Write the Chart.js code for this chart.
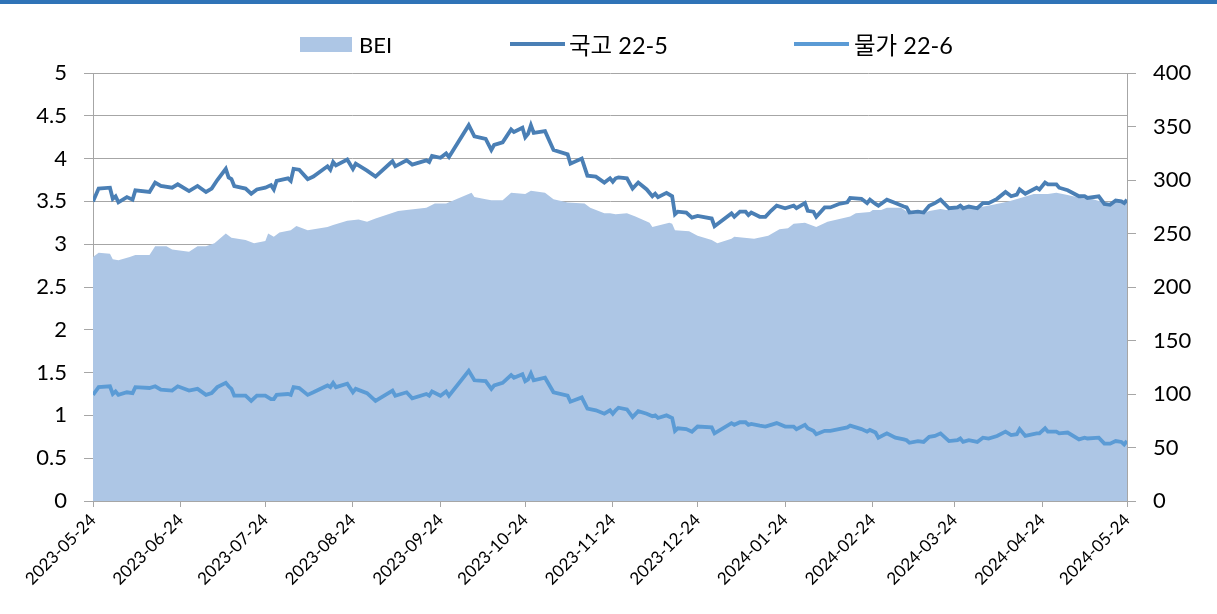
<!DOCTYPE html>
<html>
<head>
<meta charset="utf-8">
<script src="https://cdn.jsdelivr.net/npm/chart.js@4.4.1/dist/chart.umd.min.js"></script>
<style>
  body { margin: 0; background: #fff; }
  #wrap { position: relative; width: 1217px; height: 614px; overflow: hidden; }
  #band { position: absolute; left: 0; top: 0; width: 1217px; height: 4px; background: #2f73b7; }
  #legend { position: absolute; left: 0; top: 0; width: 1217px; height: 70px;
            font-family: Lato, "Noto Sans CJK KR", sans-serif; font-size: 22px; color: #000; }
  .sw { position: absolute; }
  .lb { position: absolute; top: 30px; line-height: 30px; white-space: nowrap; }
</style>
</head>
<body>
<div id="wrap">
  <canvas id="chart" width="1217" height="614"></canvas>
  <div id="band"></div>
  <div id="legend"></div>
</div>
<script>
// days since 2023-05-24
const days = [0,2,6,7,8,9,12,14,15,20,22,24,28,30,34,37,40,42,44,47,48,49,50,54,56,58,61,63,64,65,
  69,70,71,73,76,78,83,84,85,86,90,92,93,97,100,105,106,107,111,113,118,119,120,123,125,126,
  133,135,139,141,142,145,148,149,152,153,154,155,156,160,163,168,169,173,175,178,181,183,184,185,186,
  189,191,193,196,198,199,200,203,205,206,207,210,212,214,219,220,226,227,229,231,232,233,236,238,240,
  242,245,248,249,252,253,255,256,259,261,264,267,268,272,274,275,277,278,281,284,287,288,289,292,294,
  296,298,300,303,306,307,308,310,313,315,317,320,323,325,327,328,330,334,335,337,338,341,342,345,
  349,351,352,356,358,360,362,364,365,366];

const ktb = [3.50,3.65,3.66,3.53,3.56,3.49,3.55,3.52,3.63,3.61,3.72,3.68,3.66,3.70,3.62,3.68,3.61,3.65,3.75,3.88,
  3.78,3.76,3.68,3.65,3.59,3.64,3.66,3.69,3.64,3.74,3.77,3.74,3.88,3.87,3.76,3.79,3.91,3.87,3.96,3.92,
  3.99,3.88,3.94,3.86,3.79,3.94,3.97,3.91,3.98,3.93,3.98,3.96,4.03,4.01,4.06,4.02,
  4.39,4.26,4.23,4.10,4.16,4.19,4.34,4.31,4.36,4.25,4.29,4.39,4.30,4.32,4.10,4.05,3.94,4.00,3.80,3.79,
  3.72,3.77,3.73,3.77,3.78,3.77,3.65,3.72,3.64,3.56,3.59,3.55,3.60,3.56,3.35,3.38,3.37,3.31,3.33,3.30,
  3.21,3.36,3.32,3.38,3.38,3.34,3.37,3.32,3.32,3.39,3.45,3.42,3.45,3.42,3.48,3.39,3.38,3.32,3.43,3.43,
  3.47,3.49,3.54,3.53,3.48,3.52,3.47,3.45,3.52,3.48,3.44,3.43,3.37,3.38,3.37,3.45,3.48,3.52,3.42,3.43,
  3.45,3.42,3.44,3.42,3.48,3.48,3.53,3.61,3.56,3.58,3.64,3.59,3.66,3.64,3.72,3.70,3.70,3.66,3.63,
  3.56,3.56,3.54,3.56,3.47,3.46,3.51,3.50,3.48,3.52];

const ilb = [1.24,1.33,1.34,1.25,1.28,1.24,1.27,1.26,1.33,1.32,1.34,1.30,1.29,1.34,1.29,1.31,1.24,1.26,1.33,1.38,
  1.34,1.31,1.23,1.23,1.17,1.23,1.23,1.19,1.19,1.24,1.25,1.24,1.33,1.32,1.24,1.27,1.35,1.33,1.38,1.33,
  1.37,1.27,1.31,1.26,1.17,1.27,1.29,1.23,1.27,1.20,1.25,1.23,1.28,1.23,1.28,1.23,
  1.52,1.41,1.40,1.31,1.35,1.38,1.47,1.44,1.48,1.40,1.42,1.49,1.41,1.44,1.27,1.23,1.16,1.21,1.08,1.06,
  1.02,1.06,1.02,1.06,1.09,1.07,0.98,1.05,1.02,0.99,1.00,0.97,1.00,0.97,0.82,0.85,0.84,0.81,0.87,0.86,
  0.79,0.91,0.89,0.92,0.92,0.89,0.90,0.88,0.87,0.89,0.91,0.87,0.87,0.84,0.89,0.85,0.82,0.78,0.82,0.82,
  0.84,0.86,0.88,0.84,0.81,0.83,0.80,0.74,0.79,0.74,0.72,0.71,0.68,0.70,0.69,0.75,0.76,0.79,0.70,0.71,
  0.73,0.69,0.71,0.69,0.74,0.73,0.76,0.81,0.77,0.78,0.84,0.76,0.79,0.79,0.85,0.81,0.81,0.79,0.80,
  0.72,0.74,0.73,0.74,0.67,0.67,0.70,0.69,0.66,0.70];

// BEI (bp)
const beiDays = [0,2,6,7,9,13,15,20,22,26,28,34,37,40,43,47,49,54,57,61,62,64,66,70,72,76,83,85,90,94,97,100,
  108,111,118,121,125,134,135,139,141,145,148,153,155,160,163,168,174,176,181,183,185,189,192,197,198,
  204,205,206,211,214,219,221,226,227,234,239,243,246,248,252,256,260,268,270,275,276,279,281,286,289,
  294,296,300,302,307,313,319,324,328,333,338,341,345,350,354,359,363,366];
const bei = [228,232,231,226,225,228,230,230,238,238,235,233,238,238,241,250,246,244,241,243,250,247,251,253,257,253,256,258,262,263,261,264,
  271,272,274,278,278,288,284,282,281,281,288,287,290,288,282,279,278,274,269,269,268,269,266,260,256,
  260,259,253,252,248,244,241,245,247,245,248,254,255,259,260,256,261,266,269,270,272,272,274,274,269,
  269,271,273,272,274,274,277,280,283,287,287,288,286,283,282,278,280,281];

const tickLabels = ['2023-05-24','2023-06-24','2023-07-24','2023-08-24','2023-09-24','2023-10-24','2023-11-24',
  '2023-12-24','2024-01-24','2024-02-24','2024-03-24','2024-04-24','2024-05-24'];

const base = Date.UTC(2023, 4, 24);
const tickDays = tickLabels.map(s => {
  const p = s.split('-').map(Number);
  return Math.round((Date.UTC(p[0], p[1] - 1, p[2]) - base) / 86400000);
});

const gridColor = '#a6a6a6';
const font = { family: 'Lato, "Noto Sans CJK KR", sans-serif', size: 22 };

const chart = new Chart(document.getElementById('chart'), {
  type: 'line',
  data: {
    datasets: [
      {
        label: 'BEI',
        data: beiDays.map((d, i) => ({ x: d, y: bei[i] })),
        yAxisID: 'y1',
        fill: 'origin',
        backgroundColor: '#adc6e5',
        borderColor: '#adc6e5',
        borderWidth: 0,
        pointRadius: 0,
        order: 3
      },
      {
        label: '국고 22-5',
        data: days.map((d, i) => ({ x: d, y: ktb[i] })),
        yAxisID: 'y',
        borderColor: '#4a7fb5',
        backgroundColor: '#4a7fb5',
        borderWidth: 3.8,
        pointRadius: 0,
        fill: false,
        order: 1
      },
      {
        label: '물가 22-6',
        data: days.map((d, i) => ({ x: d, y: ilb[i] })),
        yAxisID: 'y',
        borderColor: '#5b9bd5',
        backgroundColor: '#5b9bd5',
        borderWidth: 3.8,
        pointRadius: 0,
        fill: false,
        order: 2
      }
    ]
  },
  options: {
    responsive: false,
    devicePixelRatio: 1,
    animation: false,
    layout: { padding: { top: 73, left: 0, right: 0, bottom: 0 } },
    plugins: { legend: { display: false }, tooltip: { enabled: false } },
    scales: {
      x: {
        type: 'linear',
        min: 0,
        max: 366,
        afterFit: s => { s.height = 113; },
        afterBuildTicks: s => { s.ticks = tickDays.map(v => ({ value: v })); },
        ticks: {
          autoSkip: false,
          maxRotation: 45,
          minRotation: 45,
          padding: 3,
          color: '#000',
          font: { family: font.family, size: 17 },
          callback: v => tickLabels[tickDays.indexOf(v)]
        },
        grid: { drawOnChartArea: false, color: gridColor, tickLength: 6 },
        border: { color: gridColor }
      },
      y: {
        position: 'left',
        min: 0,
        max: 5,
        afterFit: s => { s.width = 93; },
        ticks: { stepSize: 0.5, padding: 17, color: '#000', font: font, callback: v => String(v) },
        grid: { color: gridColor, tickLength: 9 },
        border: { color: gridColor }
      },
      y1: {
        position: 'right',
        min: 0,
        max: 400,
        afterFit: s => { s.width = 90; },
        ticks: { stepSize: 50, padding: 17, color: '#000', font: font },
        grid: { drawOnChartArea: false, color: gridColor, tickLength: 9 },
        border: { color: gridColor }
      }
    }
  }
});

// legend built from the datasets
const legendPos = [
  { sw: 300, txt: 359, kind: 'box', size: 22 },
  { sw: 510, txt: 569, kind: 'line', size: 23.5 },
  { sw: 794, txt: 854, kind: 'line', size: 23.5 }
];
const legend = document.getElementById('legend');
chart.data.datasets.forEach((ds, i) => {
  const p = legendPos[i];
  const sw = document.createElement('div');
  sw.className = 'sw';
  sw.style.left = p.sw + 'px';
  sw.style.width = (p.kind === 'box' ? 52 : 55) + 'px';
  if (p.kind === 'box') {
    sw.style.top = '37px'; sw.style.height = '15px'; sw.style.background = ds.backgroundColor;
  } else {
    sw.style.top = '42px'; sw.style.height = '4px'; sw.style.background = ds.borderColor;
  }
  legend.appendChild(sw);
  const lb = document.createElement('div');
  lb.className = 'lb';
  lb.style.left = p.txt + 'px';
  lb.style.fontSize = p.size + 'px';
  lb.textContent = ds.label;
  legend.appendChild(lb);
});
</script>
</body>
</html>
